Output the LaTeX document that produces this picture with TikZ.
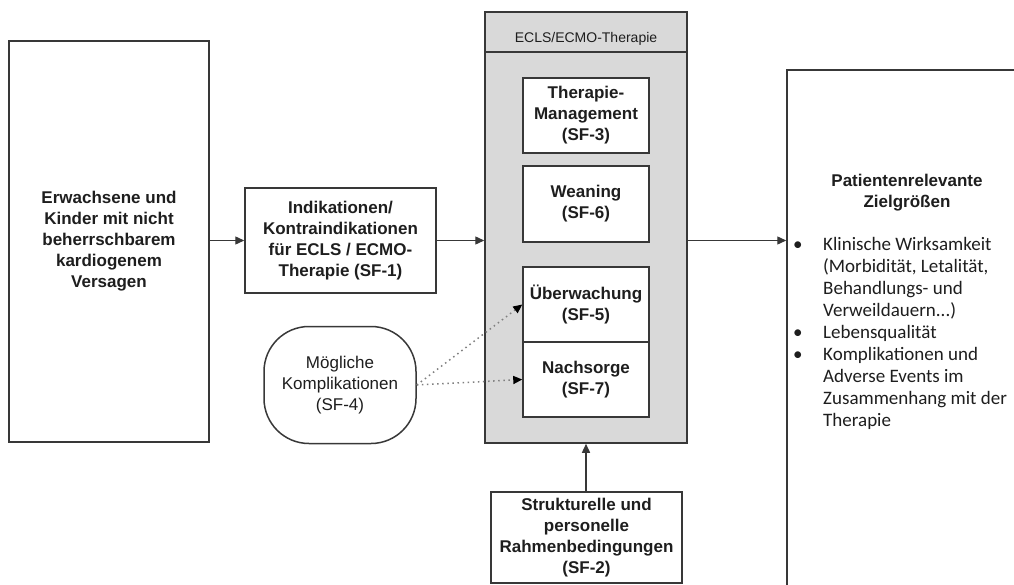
\documentclass[tikz,border=0pt]{standalone}
\usepackage{fontspec}
\setmainfont{Liberation Sans}
\newfontfamily\calibri{Carlito}
\usetikzlibrary{arrows.meta}
\definecolor{linegray}{HTML}{383838}
\definecolor{boxgray}{HTML}{D9D9D9}
\definecolor{textgray}{HTML}{1E1E1E}
\begin{document}
\begin{tikzpicture}[x=1pt,y=-1pt,
    box/.style={draw=linegray, line width=1.5pt, fill=white, align=center, inner sep=0pt,
      text=textgray, font=\fontsize{17}{21}\selectfont\bfseries},
    flow/.style={draw=linegray, line width=1.4pt, -{Triangle[length=9pt,width=8pt]}},
    dots/.style={draw=gray, line width=1.5pt, dash pattern=on 1.5pt off 3.6pt,
      -{Triangle[length=9pt,width=8pt,color=black]}}]
    \useasboundingbox[fill=white] (0,0) rectangle (1014,585);
    % outer boxes
    \node[box, minimum width=200pt, minimum height=401pt] (patient) at (109,241.5)
      {Erwachsene und\\Kinder mit nicht\\beherrschbarem\\kardiogenem\\Versagen};
    \node[box, minimum width=191pt, minimum height=105pt] (ind) at (340.5,240.5)
      {Indikationen/\\Kontraindikationen\\für ECLS / ECMO-\\Therapie (SF-1)};
    \node[box, minimum width=240pt, minimum height=530pt] (ziel) at (907,335) {};
    \node[text=textgray, align=center, font=\fontsize{17}{21}\selectfont\bfseries] (zielhead) at (907,193)
      {Patientenrelevante\\Zielgrößen};
    \node[anchor=north west, inner sep=0pt, text=textgray, font=\calibri\fontsize{19}{22}\selectfont] (ziellist) at (791,235) {%
      \begin{tabular}{@{}p{32pt}@{}l@{}}
        \hspace{2pt}\textbullet & Klinische Wirksamkeit\\
         & (Morbidität, Letalität,\\
         & Behandlungs- und\\
         & Verweildauern...)\\
        \hspace{2pt}\textbullet & Lebensqualität\\
        \hspace{2pt}\textbullet & Komplikationen und\\
         & Adverse Events im\\
         & Zusammenhang mit der\\
         & Therapie
      \end{tabular}};
    % ECLS/ECMO block
    \node[box, fill=boxgray, minimum width=202pt, minimum height=431pt] (ecmo) at (586,227.5) {};
    \node[box, fill=boxgray, minimum width=202pt, minimum height=40pt,
      font=\fontsize{14}{16}\selectfont, text height=21pt, text depth=0pt] (ecmohead) at (586,32) {ECLS/ECMO-Therapie};
    \node[box, minimum width=126pt, minimum height=75pt] (therapie) at (586,115.5)
      {Therapie-\\Management\\(SF-3)};
    \node[box, minimum width=126pt, minimum height=76pt] (weaning) at (586,204)
      {Weaning\\(SF-6)};
    \node[box, minimum width=126pt, minimum height=75pt] (ueber) at (586,304.5)
      {Überwachung\\(SF-5)};
    \node[box, minimum width=126pt, minimum height=75pt] (nach) at (586,379.5)
      {Nachsorge\\(SF-7)};
    \node[box, minimum width=191pt, minimum height=91pt] (struktur) at (586.5,537.5)
      {Strukturelle und\\personelle\\Rahmenbedingungen\\(SF-2)};
    \node[box, rounded corners=45pt, minimum width=152pt, minimum height=117pt,
      font=\fontsize{17}{21}\selectfont] (kompl) at (340,385)
      {Mögliche\\Komplikationen\\(SF-4)};
    % connectors
    \draw[flow] (ind.west -| patient.east) -- (ind.west);
    \draw[flow] (ind.east) -- (ind.east -| ecmo.west);
    \draw[flow] (ind.east -| ecmo.east) -- (ind.east -| ziel.west);
    \draw[flow] (struktur.north -| ecmo.south) -- (ecmo.south);
    \draw[dots] (kompl.east) -- (ueber.west);
    \draw[dots] (kompl.east) -- (nach.west);
\end{tikzpicture}
\end{document}
